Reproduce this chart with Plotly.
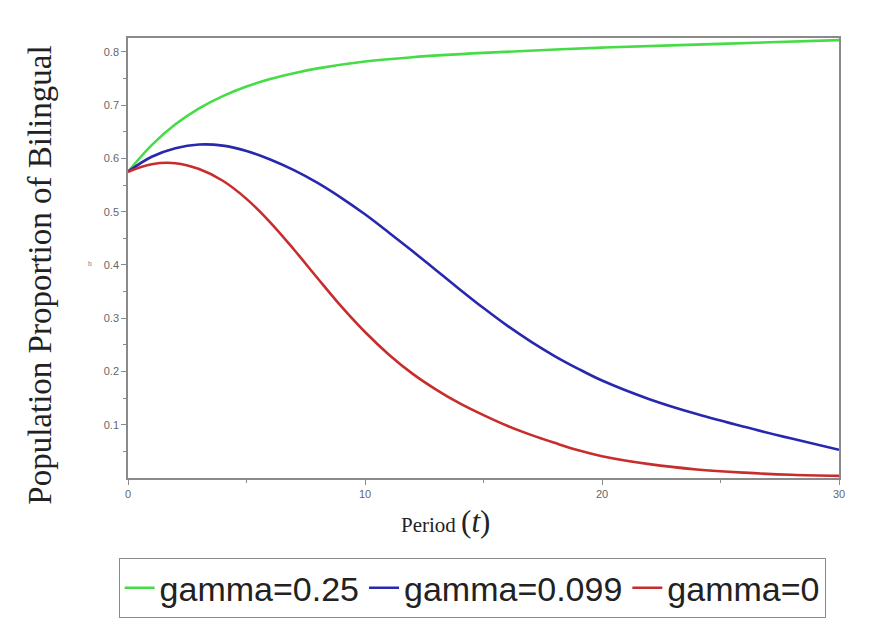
import plotly.graph_objects as go

# Data
t_green = [0, 1, 2, 3, 4, 5, 6, 7, 8, 10, 12, 15, 20, 25, 30]
y_green = [0.575, 0.625, 0.664, 0.694, 0.717, 0.735, 0.749, 0.760, 0.769, 0.782, 0.790, 0.798, 0.808, 0.815, 0.822]

t_blue = [0, 1, 2, 3, 4, 5, 6, 7, 8, 9, 10, 11, 12, 13, 14, 15, 16, 17, 18, 19, 20, 22, 24, 26, 28, 30]
y_blue = [0.575, 0.603, 0.619, 0.626, 0.624, 0.614, 0.598, 0.578, 0.554, 0.526, 0.495, 0.461, 0.426, 0.390,
          0.354, 0.319, 0.286, 0.256, 0.229, 0.205, 0.183, 0.148, 0.120, 0.096, 0.074, 0.053]

t_red = [0, 1, 2, 3, 4, 5, 6, 7, 8, 9, 10, 11, 12, 13, 14, 15, 16, 17, 18, 19, 20, 22, 24, 26, 28, 30]
y_red = [0.575, 0.589, 0.591, 0.580, 0.558, 0.524, 0.480, 0.429, 0.375, 0.322, 0.274, 0.232, 0.196, 0.166,
         0.140, 0.118, 0.098, 0.081, 0.066, 0.052, 0.041, 0.026, 0.016, 0.010, 0.006, 0.004]

series_names = ["gamma=0.25", "gamma=0.099", "gamma=0"]
x_ticks = [0, 10, 20, 30]
y_ticks = [0.1, 0.2, 0.3, 0.4, 0.5, 0.6, 0.7, 0.8]
y_tick_text = ["0.1", "0.2", "0.3", "0.4", "0.5", "0.6", "0.7", "0.8"]

colors = ["rgb(70,220,70)", "rgb(40,40,175)", "rgb(200,45,45)"]

fig = go.Figure()
for t, y, name, c in zip([t_green, t_blue, t_red], [y_green, y_blue, y_red], series_names, colors):
    fig.add_trace(go.Scatter(x=t, y=y, mode="lines", name=name,
                             line=dict(color=c, width=2.6, shape="spline", smoothing=1.0)))

axis_common = dict(showgrid=False, zeroline=False, showline=True, mirror=True,
                   linecolor="#8a8a8a", linewidth=1.5, ticks="outside", ticklen=5,
                   tickcolor="#8a8a8a", tickwidth=1,
                   tickfont=dict(family="Liberation Sans", size=11, color="#666666"))

fig.update_layout(
    width=880, height=643,
    margin=dict(l=128, r=41, t=38, b=165),
    paper_bgcolor="white", plot_bgcolor="white",
    xaxis=dict(range=[0, 30], tickvals=x_ticks, ticktext=[str(v) for v in x_ticks],
               minor=dict(tickvals=[5, 15, 25], ticklen=3, ticks="outside", tickcolor="#8a8a8a"),
               **axis_common),
    yaxis=dict(range=[0.0, 0.826], tickvals=y_ticks, ticktext=y_tick_text,
               minor=dict(tickvals=[0.05, 0.15, 0.25, 0.35, 0.45, 0.55, 0.65, 0.75],
                          ticklen=3, ticks="outside", tickcolor="#8a8a8a"),
               **axis_common),
    showlegend=True,
    legend=dict(orientation="h", x=0.484, xanchor="center", y=-0.182, yanchor="top",
                bgcolor="white", bordercolor="#8a8a8a", borderwidth=1,
                font=dict(family="Liberation Sans", size=34, color="#222222"),
                itemwidth=30, tracegroupgap=0),
    annotations=[
        dict(text="Population Proportion of Bilingual", xref="paper", yref="paper",
             x=-0.152, y=0.462, textangle=-90, showarrow=False,
             font=dict(family="Liberation Serif", size=33, color="#222222")),
        dict(text="Period <span style='font-size:31px'>(<i>t</i>)</span>", xref="paper", yref="paper",
             x=(445 - 128) / 711, y=-(541 - 478) / 440, showarrow=False,
             font=dict(family="Liberation Serif", size=21, color="#222222")),
        dict(text="b", xref="paper", yref="paper",
             x=(86 - 128) / 711, y=(478 - 263) / 440, showarrow=False,
             font=dict(family="Liberation Sans", size=7, color="#888888")),
    ],
)

fig.write_html("out.html")
